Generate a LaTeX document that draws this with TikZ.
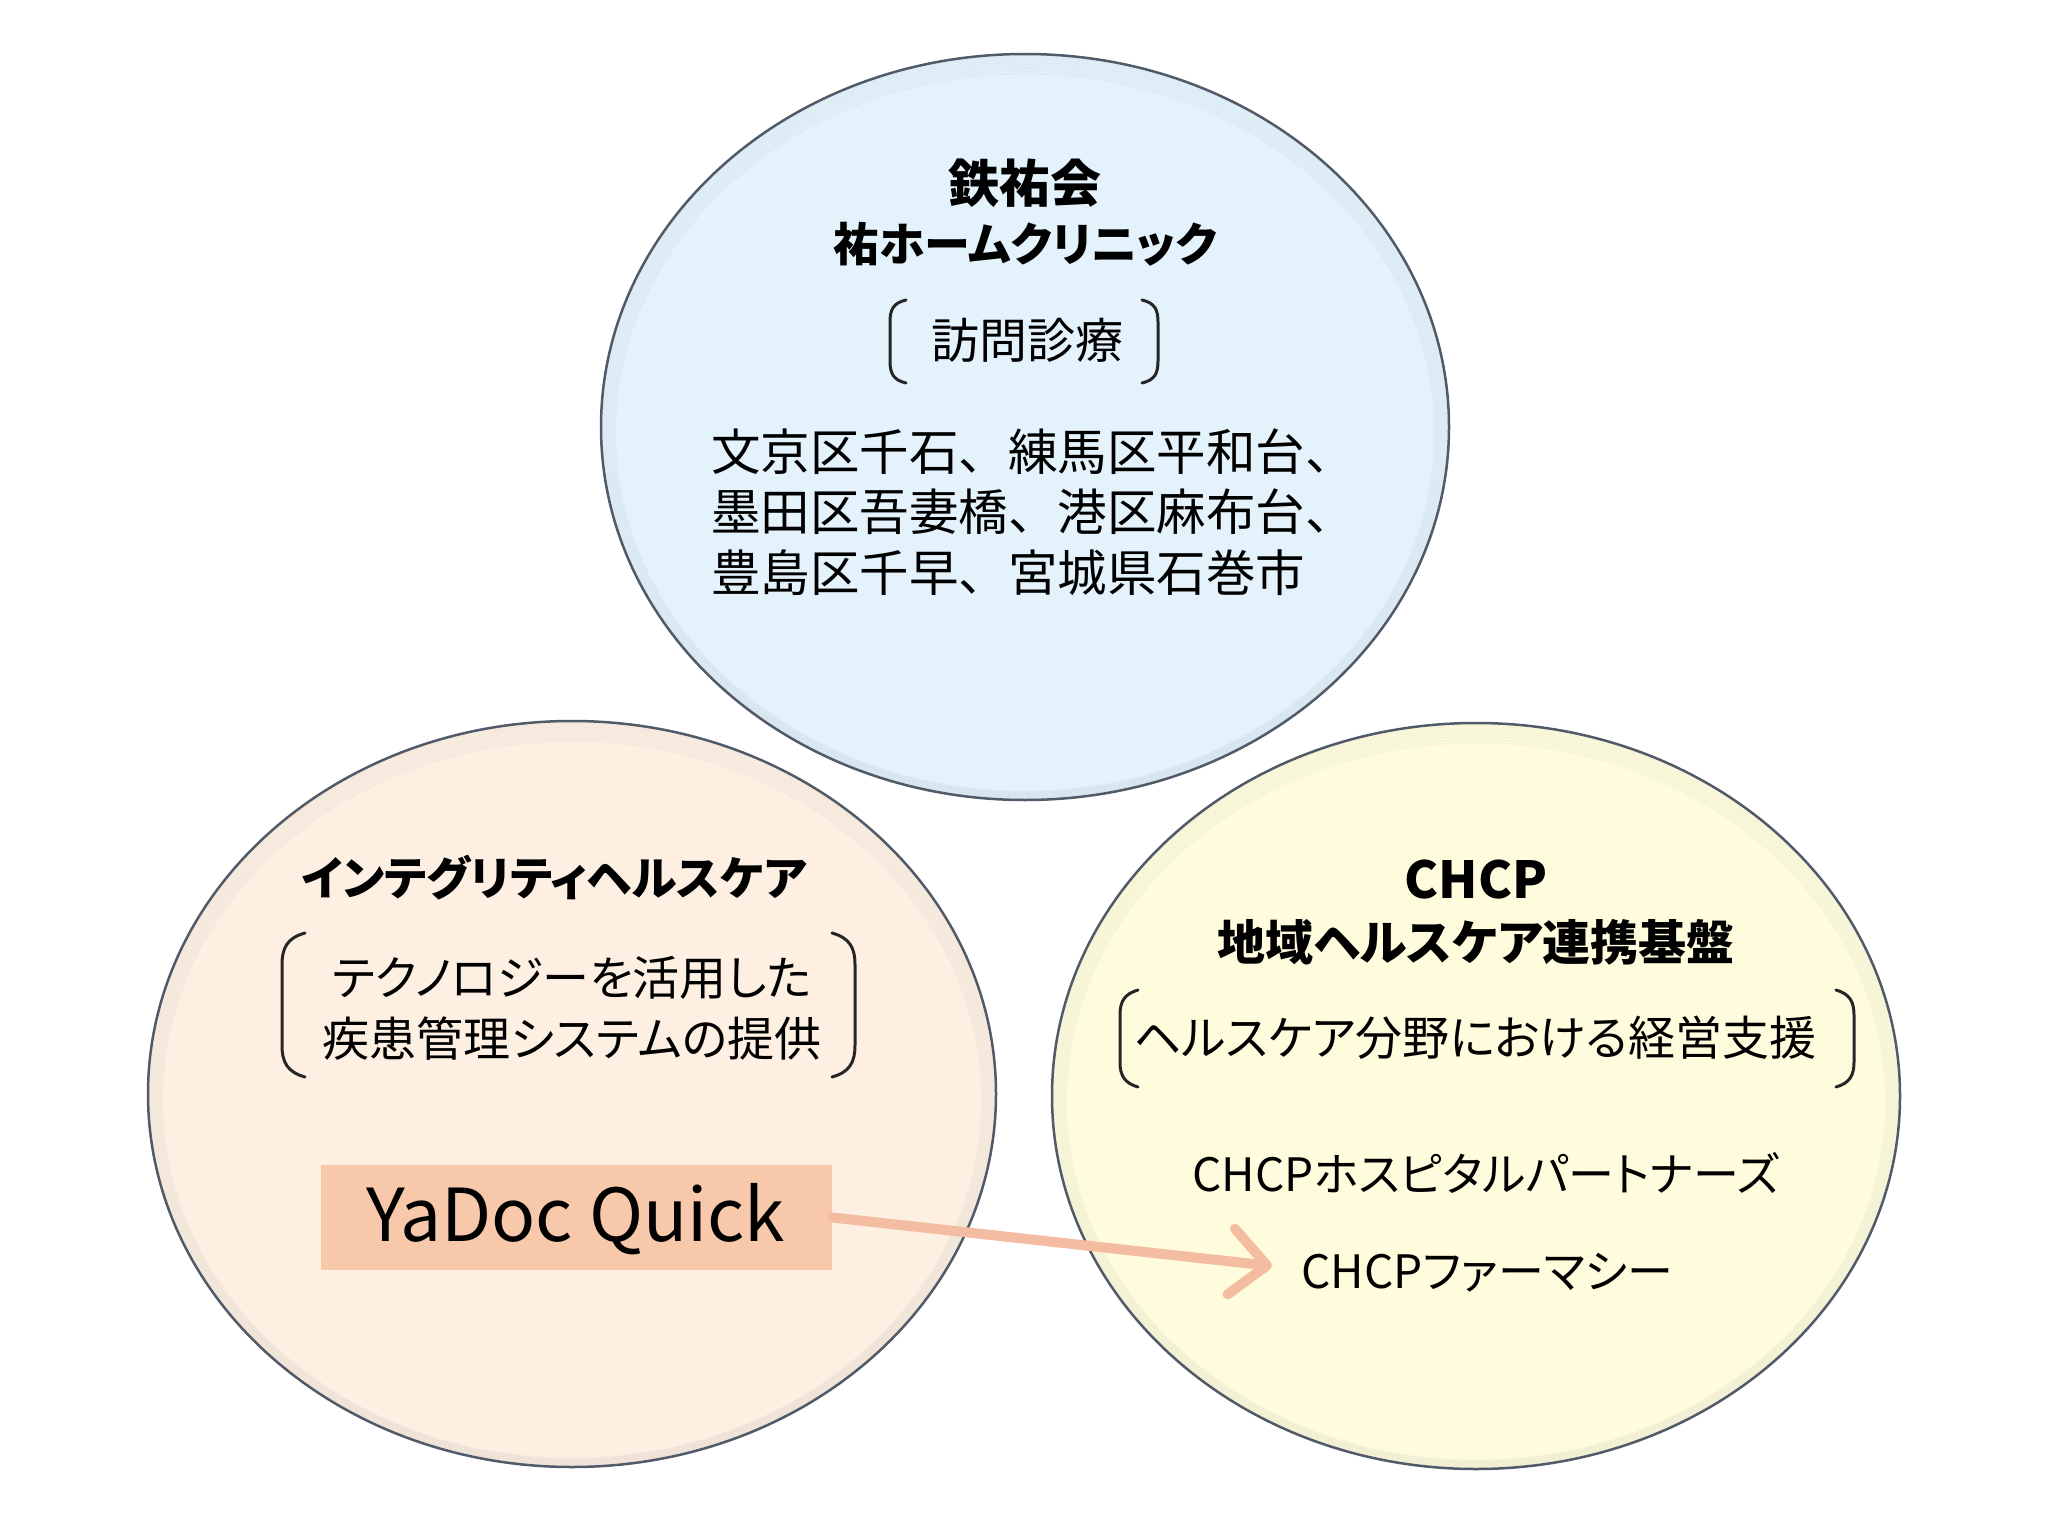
\documentclass[tikz,border=0pt]{standalone}
\usepackage{fontspec}
\usetikzlibrary{shapes.geometric,arrows.meta}
\newfontfamily\jp{Noto Sans CJK JP}
\newfontfamily\jpp{Noto Sans CJK JP}[RawFeature=+palt]
\definecolor{topfill}{RGB}{228,242,251}
\definecolor{leftfill}{RGB}{253,239,226}
\definecolor{rightfill}{RGB}{255,252,222}
\definecolor{rim}{RGB}{80,90,104}
\definecolor{boxfill}{RGB}{247,200,170}
\definecolor{arrowc}{RGB}{244,188,160}
\tikzset{
  bubble/.style={ellipse, draw=rim, line width=2.5pt, minimum width=848pt, minimum height=746pt, inner sep=0pt},
  txt/.style={align=center, inner sep=0pt, font=\jp\fontsize{46}{61}\selectfont},
  ttl/.style={align=center, inner sep=0pt, font=\jpp\bfseries\fontsize{46}{61}\selectfont},
  brk/.style={draw=black!85, line width=3pt, line cap=round},
}
\newcommand{\innershade}[2]{%
  \foreach \k in {2,4,...,14}{
    \draw[rim, line width=2pt, opacity=0.045] (#1,#2+\k*0.4) ellipse[x radius=424-\k, y radius=373-\k];
  }}
\begin{document}
\begin{tikzpicture}[x=1pt,y=-1pt]
\useasboundingbox (0,0) rectangle (2048,1536);
\fill[white] (0,0) rectangle (2048,1536);
% left
\node[bubble, fill=leftfill] (L) at (572,1094) {};
\innershade{572}{1094}
% right
\node[bubble, fill=rightfill] (R) at (1476,1096) {};
\innershade{1476}{1096}
% top
\node[bubble, fill=topfill] (T) at (1025,427) {};
\innershade{1025}{427}

% top texts
\node[ttl, font=\jpp\bfseries\fontsize{51}{61}\selectfont] (t1) at (1025,183) {鉄祐会};
\node[ttl] (t2) at (1025,244) {祐ホームクリニック};
\node[txt, font=\jp\fontsize{48}{61}\selectfont] (t3) at (1027,340) {訪問診療};
\draw[brk] (906,300) .. controls (893,303) and (890,310) .. (890,322) -- (890,361) .. controls (890,373) and (893,380) .. (906,383);
\draw[brk] (1142,300) .. controls (1155,303) and (1158,310) .. (1158,322) -- (1158,361) .. controls (1158,373) and (1155,380) .. (1142,383);
\node[txt, align=left, anchor=west, font=\jp\fontsize{49.5}{60.7}\selectfont] (t4) at (711,512) {文京区千石、練馬区平和台、\\墨田区吾妻橋、港区麻布台、\\豊島区千早、宮城県石巻市};

% left texts
\node[ttl] (l1) at (554,878) {インテグリティヘルスケア};
\node[txt, font=\jpp\fontsize{47}{61}\selectfont] (l2) at (572,1008) {テクノロジーを活用した\\疾患管理システムの提供};
\draw[brk] (305,933) .. controls (287,938) and (282,948) .. (282,965) -- (282,1045) .. controls (282,1062) and (287,1072) .. (305,1077);
\draw[brk] (832,933) .. controls (850,938) and (855,948) .. (855,965) -- (855,1045) .. controls (855,1062) and (850,1072) .. (832,1077);
\node[fill=boxfill, minimum width=511pt, minimum height=105pt, inner sep=0pt] (box) at (576.5,1217.5) {};
\node[inner sep=0pt, font=\jp\fontsize{73}{80}\selectfont] (yq) at (576,1219) {YaDoc Quick};

% right texts
\node[ttl, font=\jpp\bfseries\fontsize{51}{61}\selectfont] (r1) at (1476,880) {CHCP};
\node[ttl, font=\jpp\bfseries\fontsize{48}{61}\selectfont] (r2) at (1476,942) {地域ヘルスケア連携基盤};
\node[txt, font=\jpp\fontsize{47}{61}\selectfont] (r3) at (1475,1038) {ヘルスケア分野における経営支援};
\draw[brk] (1138,990) .. controls (1124,994) and (1120,1002) .. (1120,1015) -- (1120,1062) .. controls (1120,1075) and (1124,1083) .. (1138,1087);
\draw[brk] (1836,990) .. controls (1850,994) and (1854,1002) .. (1854,1015) -- (1854,1062) .. controls (1854,1075) and (1850,1083) .. (1836,1087);
\node[txt, font=\jpp\fontsize{46}{61}\selectfont] (r4) at (1486,1173) {CHCPホスピタルパートナーズ};
\node[txt, font=\jpp\fontsize{46}{61}\selectfont] (r5) at (1487,1273) {CHCPファーマシー};

% arrow
\coordinate (tip) at (1272,1266);
\draw[arrowc, line width=10pt, line cap=round, -{Straight Barb[length=36pt, width=66pt, line width=10pt, round]}] (box.east) -- (tip);
\end{tikzpicture}
\end{document}
